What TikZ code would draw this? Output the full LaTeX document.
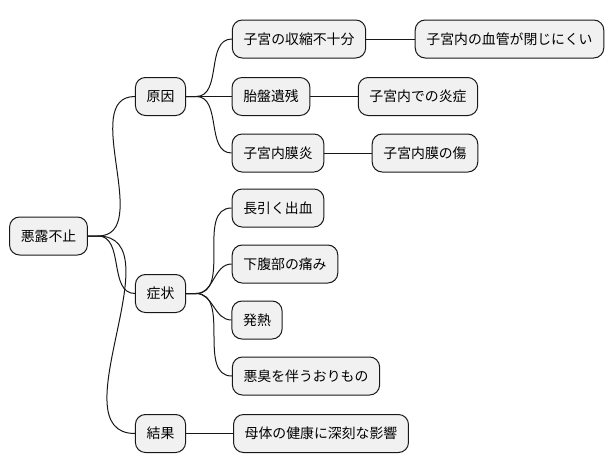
\documentclass[tikz,border=0pt]{standalone}
\usepackage{fontspec}
\newfontfamily\jpfont{Noto Sans CJK JP}
\usepackage{tikz}
\definecolor{boxFill}{RGB}{241, 241, 241}
\definecolor{boxLine}{RGB}{24, 24, 24}

\tikzset{
  mmbox/.style={draw=boxLine, fill=boxFill, line width=0.75pt, rounded corners=7.5pt,
    minimum height=28.5pt, inner xsep=8.4pt, font=\jpfont\fontsize{10.4}{12}\selectfont},
  mmline/.style={draw=boxLine, line width=0.75pt}
}

\begin{document}
\begin{tikzpicture}[x=0.75pt, y=-0.75pt]
      \useasboundingbox (0,0) rectangle (614,471);

      % root and first level
      \node[mmbox] (root) at (48.5,236) {悪露不止};
      \node[mmbox] (cause) at (160.5,96.5) {原因};
      \node[mmbox] (symptom) at (160.5,293.5) {症状};
      \node[mmbox] (result) at (160.5,433.5) {結果};

      % causes
      \node[mmbox] (contract) at (299,39) {子宮の収縮不十分};
      \node[mmbox] (vessel) at (509.5,39) {子宮内の血管が閉じにくい};
      \node[mmbox] (placenta) at (271,96.5) {胎盤遺残};
      \node[mmbox] (inflame) at (418,96.5) {子宮内での炎症};
      \node[mmbox] (endomet) at (278,153) {子宮内膜炎};
      \node[mmbox] (wound) at (425,153) {子宮内膜の傷};

      % symptoms
      \node[mmbox] (bleed) at (278,208) {長引く出血};
      \node[mmbox] (pain) at (285,264) {下腹部の痛み};
      \node[mmbox] (fever) at (257,320) {発熱};
      \node[mmbox] (smell) at (306,376) {悪臭を伴うおりもの};

      % result
      \node[mmbox] (health) at (321,433.5) {母体の健康に深刻な影響};

      % connectors
      \draw[mmline] (root.east) -- ++(10,0) to[out=0, in=180] (cause.west);
      \draw[mmline] (root.east) -- ++(10,0) to[out=0, in=180] (symptom.west);
      \draw[mmline] (root.east) -- ++(10,0) to[out=0, in=180] (result.west);

      \draw[mmline] (cause.east) -- ++(10,0) to[out=0, in=180] (contract.west);
      \draw[mmline] (cause.east) -- ++(10,0) to[out=0, in=180] (placenta.west);
      \draw[mmline] (cause.east) -- ++(10,0) to[out=0, in=180] (endomet.west);
      \draw[mmline] (contract) -- (vessel);
      \draw[mmline] (placenta) -- (inflame);
      \draw[mmline] (endomet) -- (wound);

      \draw[mmline] (symptom.east) -- ++(10,0) to[out=0, in=180] (bleed.west);
      \draw[mmline] (symptom.east) -- ++(10,0) to[out=0, in=180] (pain.west);
      \draw[mmline] (symptom.east) -- ++(10,0) to[out=0, in=180] (fever.west);
      \draw[mmline] (symptom.east) -- ++(10,0) to[out=0, in=180] (smell.west);

      \draw[mmline] (result) -- (health);
    \end{tikzpicture}
\end{document}
